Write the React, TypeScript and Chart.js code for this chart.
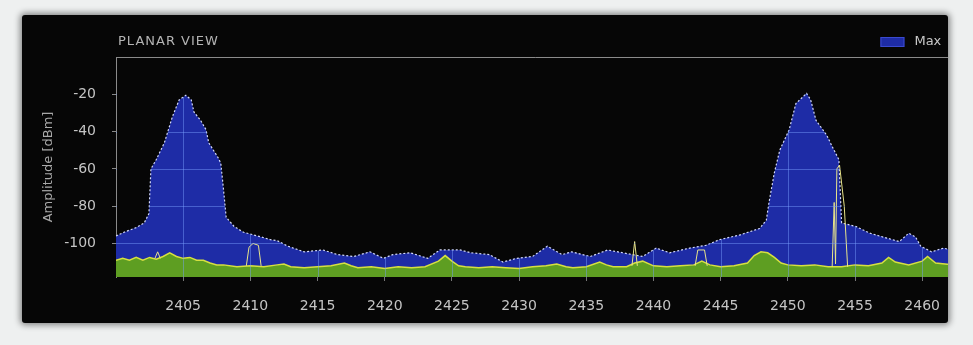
import React, { useEffect, useRef } from "react";
import { Chart, registerables } from "chart.js";

Chart.register(...registerables);

// ---- data ----
const titleText = "PLANAR VIEW";
const legendLabel = "Max";
const yAxisTitle = "Amplitude [dBm]";

const xTicks = [2405, 2410, 2415, 2420, 2425, 2430, 2435, 2440, 2445, 2450, 2455, 2460];
const yTicks = [-20, -40, -60, -80, -100];

// Max-hold envelope (blue)
const maxFreq = [
  2400, 2400.6, 2401.5, 2402.1, 2402.45, 2402.6, 2403, 2403.6, 2404.2, 2404.7, 2405.2, 2405.6,
  2405.8, 2406.3, 2406.7, 2406.9, 2407.6, 2407.8, 2408.0, 2408.2, 2408.8, 2409.5, 2410.8, 2411.5,
  2412, 2412.8, 2414, 2415.4, 2416.5, 2417.7, 2418.9, 2419.9, 2420.6, 2421.9, 2423.2, 2424.1,
  2425.6, 2426.4, 2427.8, 2428.8, 2429.8, 2431, 2432.1, 2433.2, 2433.9, 2435.3, 2436.6, 2437.7,
  2439.2, 2440.2, 2441.2, 2442.7, 2443.9, 2444.9, 2446.4, 2447.9, 2448.4, 2448.6, 2449.0, 2449.4,
  2450.1, 2450.6, 2451.4, 2451.7, 2452.1, 2452.9, 2453.3, 2453.8, 2454.0, 2455.1, 2456.1, 2457.3,
  2458.3, 2459.0, 2459.5, 2459.9, 2460.7, 2461.6, 2462.4,
];
const maxDbm = [
  -96, -94, -91.5, -89, -84, -60, -55, -46, -32, -23, -20.5, -23,
  -29.5, -34, -39, -46, -54, -57, -71, -86, -91, -94, -96.5, -98,
  -98.5, -101.5, -104.5, -103.5, -106, -107, -104.5, -108, -106, -105, -108, -103.5,
  -103.5, -105, -106, -110, -108, -107, -101.5, -106, -104.5, -107, -103.5, -105,
  -107, -102.5, -105, -102.5, -101, -98, -95.5, -92, -87.5, -78, -62, -50,
  -39, -25, -19.5, -23, -34, -42, -48, -55, -89, -91, -94.5, -97,
  -99, -94.5, -96.5, -101.5, -104.5, -102.5, -104,
];

// Average trace (green fill, yellow edge)
const avgFreq = [
  2400, 2400.5, 2401, 2401.5, 2402, 2402.5, 2403, 2403.5, 2404, 2404.5, 2405, 2405.5,
  2406, 2406.5, 2407, 2407.5, 2408, 2409, 2410, 2411, 2412, 2412.5, 2413, 2414,
  2415, 2416, 2417, 2417.5, 2418, 2419, 2420, 2421, 2422, 2423, 2424, 2424.5,
  2425, 2425.5, 2426, 2427, 2428, 2429, 2430, 2431, 2432, 2432.8, 2433.5, 2434,
  2435, 2436, 2436.5, 2437, 2438, 2438.6, 2439.2, 2440, 2441, 2442, 2443, 2443.6,
  2444.2, 2445, 2446, 2447, 2447.5, 2448, 2448.5, 2449, 2449.5, 2450, 2451, 2452,
  2453, 2454, 2455, 2456, 2457, 2457.5, 2458, 2459, 2460, 2460.4, 2461, 2462.4,
];
const avgDbm = [
  -109, -108, -109, -107.5, -109, -107.5, -108.5, -107, -105, -107, -108, -107.5,
  -109, -109, -110.5, -111.5, -111.5, -112.5, -112, -112.5, -111.5, -111, -112.5, -113,
  -112.5, -112, -110.5, -112, -113, -112.5, -113.5, -112.5, -113, -112.5, -109.5, -106.5,
  -109.5, -112, -112.5, -113, -112.5, -113, -113.5, -112.5, -112, -111, -112.5, -113,
  -112.5, -110, -111.5, -112.5, -112.5, -110.5, -109.5, -112, -112.5, -112, -111.5, -109.5,
  -111.5, -112.5, -112, -110.5, -106.5, -104.5, -105, -107.5, -110.5, -111.5, -112, -111.5,
  -112.5, -112.5, -111.5, -112, -110.5, -107.5, -110, -111.5, -109.5, -107, -110.5, -111.5,
];

// Current trace: narrow pale spikes (null = gap)
const curFreq = [
  2402.9, 2403.1, 2403.3, 2403.4,
  2409.7, 2409.9, 2410.2, 2410.6, 2410.8, 2410.9,
  2438.4, 2438.6, 2438.8, 2438.9,
  2443.1, 2443.3, 2443.8, 2444.0, 2444.1,
  2453.3, 2453.45, 2453.55, 2453.65, 2453.85, 2454.2, 2454.45,
];
const curDbm = [
  -108, -104.5, -108, null,
  -112, -102, -100, -101, -112, null,
  -112, -99, -112, null,
  -112, -103.5, -103.5, -112, null,
  -112.5, -78, -111, -60, -58, -80, -112.5,
];

const xMin = 2400;
const xMax = 2462.4;
const yMin = -118;
const yMax = 0;

const toPoints = (xs: number[], ys: (number | null)[]) => xs.map((x, i) => ({ x, y: ys[i] }));

const BLUE = "#1e2ca6";
const FONT = "'DejaVu Sans', sans-serif";

const overlayPlugin = {
  id: "overlay",
  afterDatasetsDraw(chart: any) {
    const { ctx, chartArea: a, scales } = chart;
    ctx.save();
    ctx.beginPath();
    ctx.rect(a.left, a.top, a.right - a.left, a.bottom - a.top);
    ctx.clip();
    ctx.globalCompositeOperation = "source-atop";
    ctx.strokeStyle = "rgba(120,160,255,0.45)";
    ctx.lineWidth = 1;
    xTicks.forEach((v) => {
      const x = Math.round(scales.x.getPixelForValue(v)) + 0.5;
      ctx.beginPath();
      ctx.moveTo(x, a.top);
      ctx.lineTo(x, a.bottom);
      ctx.stroke();
    });
    yTicks.forEach((v) => {
      const y = Math.round(scales.y.getPixelForValue(v)) + 0.5;
      ctx.beginPath();
      ctx.moveTo(a.left, y);
      ctx.lineTo(a.right, y);
      ctx.stroke();
    });
    ctx.restore();
  },
  afterDraw(chart: any) {
    const { ctx, chartArea: a } = chart;
    ctx.save();
    // top frame line
    ctx.strokeStyle = "#8a8a8a";
    ctx.lineWidth = 1;
    ctx.beginPath();
    ctx.moveTo(a.left, a.top + 0.5);
    ctx.lineTo(a.right, a.top + 0.5);
    ctx.stroke();
    // title
    ctx.fillStyle = "#b4b4b4";
    ctx.font = `13px ${FONT}`;
    (ctx as any).letterSpacing = "1px";
    ctx.textBaseline = "middle";
    ctx.textAlign = "left";
    ctx.fillText(titleText, a.left + 2, a.top - 15);
    (ctx as any).letterSpacing = "0px";
    // legend
    const bx = a.right - 74;
    const by = a.top - 20;
    ctx.fillStyle = BLUE;
    ctx.fillRect(bx, by, 24, 10);
    ctx.strokeStyle = "#3a4ad0";
    ctx.strokeRect(bx + 0.5, by + 0.5, 23, 9);
    ctx.fillStyle = "#c8c8c8";
    ctx.fillText(legendLabel, bx + 34, by + 5);
    ctx.restore();
  },
};

export default function App() {
  const ref = useRef<HTMLCanvasElement | null>(null);

  useEffect(() => {
    if (!ref.current) return;
    const chart = new Chart(ref.current, {
      type: "line",
      data: {
        datasets: [
          {
            label: legendLabel,
            data: toPoints(maxFreq, maxDbm),
            borderColor: "#d4dafa",
            borderWidth: 1.2,
            borderDash: [2, 2],
            backgroundColor: BLUE,
            fill: "start",
            pointRadius: 0,
            tension: 0,
            order: 3,
          },
          {
            label: "Average",
            data: toPoints(avgFreq, avgDbm),
            borderColor: "#d6e040",
            borderWidth: 1.5,
            backgroundColor: "#5e9e22",
            fill: "start",
            pointRadius: 0,
            tension: 0,
            order: 2,
          },
          {
            label: "Current",
            data: toPoints(curFreq, curDbm),
            borderColor: "#e8e48a",
            borderWidth: 1,
            fill: false,
            spanGaps: false,
            pointRadius: 0,
            tension: 0,
            order: 1,
          },
        ],
      },
      options: {
        animation: false,
        responsive: false,
        maintainAspectRatio: false,
        layout: { padding: { left: 15, top: 42, right: 0, bottom: 6 } },
        plugins: {
          legend: { display: false },
          title: { display: false },
          tooltip: { enabled: false },
        },
        scales: {
          x: {
            type: "linear",
            min: xMin,
            max: xMax,
            afterBuildTicks: (s: any) => {
              s.ticks = xTicks.map((v) => ({ value: v }));
            },
            afterFit: (s: any) => {
              s.height = 40;
            },
            ticks: {
              color: "#c4c4c4",
              font: { family: FONT, size: 14 },
              padding: 17,
              maxRotation: 0,
              autoSkip: false,
              callback: (v: any) => String(v),
            },
            grid: { drawOnChartArea: false, tickLength: 4, tickColor: "#777", color: "#777" },
            border: { display: false },
          },
          y: {
            min: yMin,
            max: yMax,
            afterBuildTicks: (s: any) => {
              s.ticks = yTicks.map((v) => ({ value: v }));
            },
            afterFit: (s: any) => {
              s.width = 79;
            },
            ticks: {
              color: "#c4c4c4",
              font: { family: FONT, size: 14 },
              padding: 16,
              callback: (v: any) => String(v),
            },
            grid: { drawOnChartArea: false, tickLength: 4, tickColor: "#888", color: "#888" },
            border: { display: true, color: "#8a8a8a" },
            title: {
              display: true,
              text: yAxisTitle,
              color: "#a8a8a8",
              font: { family: FONT, size: 13 },
              padding: { top: 4, bottom: 0 },
            },
          },
        },
      },
      plugins: [overlayPlugin],
    } as any);
    return () => chart.destroy();
  }, []);

  return (
    <div
      style={{
        position: "fixed",
        left: 0,
        top: 0,
        width: 973,
        height: 345,
        background: "#eef0f0",
        overflow: "hidden",
      }}
    >
      <div
        style={{
          position: "absolute",
          left: 22,
          top: 15,
          width: 926,
          height: 308,
          background: "#060606",
          overflow: "hidden",
          borderRadius: 3,
          boxShadow: "0 0 6px 2px rgba(0,0,0,0.45)",
        }}
      >
        <canvas ref={ref} width={935} height={308} style={{ display: "block", width: 935, height: 308 }} />
      </div>
    </div>
  );
}
